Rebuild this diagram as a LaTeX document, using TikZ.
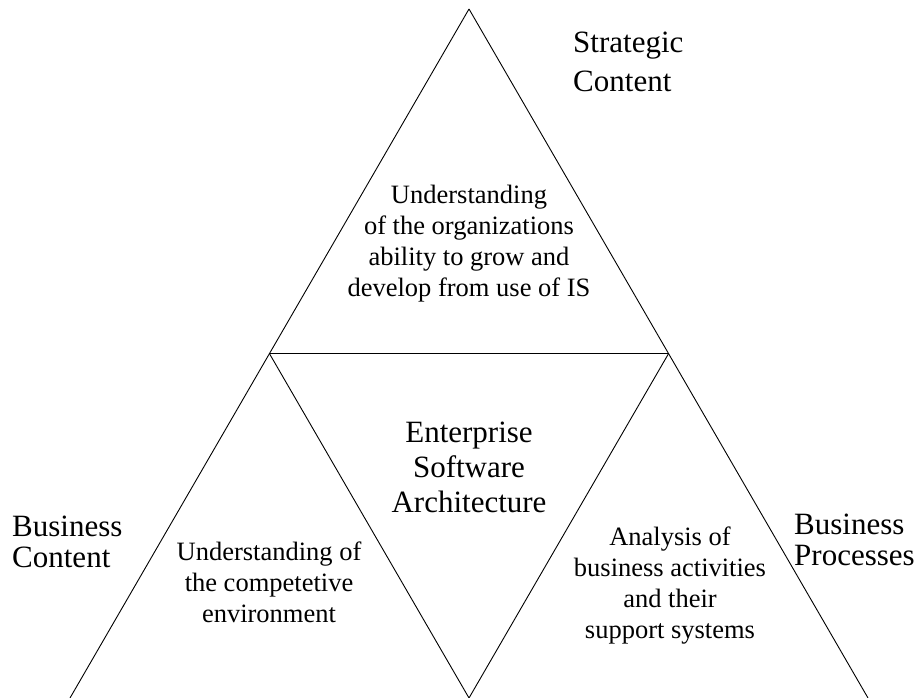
\documentclass[tikz,border=0pt]{standalone}
\usepackage{fontspec}
\setmainfont{Liberation Serif}
\begin{document}
\begin{tikzpicture}[x=1pt,y=-1pt,
  edge/.style={line width=0.9pt, line join=miter},
  bigtext/.style={inner sep=0pt, font=\fontsize{31}{31}\selectfont},
  smalltext/.style={inner sep=0pt, align=center, font=\fontsize{26.5}{31}\selectfont}]
\useasboundingbox (0,0) rectangle (915,698);
% corners of the triangle and of its inner split
\coordinate (apex) at (469,9);
\coordinate (midL) at (269.5,353.7);
\coordinate (midR) at (668.5,353.7);
\coordinate (botL) at (70,698);
\coordinate (botM) at (469,698);
\coordinate (botR) at (868,698);
\draw[edge] (apex) -- (botL);
\draw[edge] (apex) -- (botR);
\draw[edge] (midL) -- (midR);
\draw[edge] (midL) -- (botM) -- (midR);
% corner labels (anchored at the baseline of their last line)
\node[bigtext, anchor=base west, align=left, font=\fontsize{31}{39}\selectfont] (strat) at (573,92) {Strategic\\Content};
\node[bigtext, anchor=base west, align=left] (bcont) at (12,567) {Business\\Content};
\node[bigtext, anchor=base west, align=left] (bproc) at (794,565) {Business\\Processes};
% centre label
\node[bigtext, anchor=base, align=center, font=\fontsize{31}{35}\selectfont] (esa) at (469,512) {Enterprise\\Software\\Architecture};
% texts inside the three outer triangles
\node[smalltext, anchor=base] (topt) at (469,296) {Understanding\\of the organizations\\ability to grow and\\develop from use of IS};
\node[smalltext, anchor=base] (leftt) at (269,622) {Understanding of\\the competetive\\environment};
\node[smalltext, anchor=base] (rightt) at (670,638) {Analysis of\\business activities\\and their\\support systems};
\end{tikzpicture}
\end{document}
